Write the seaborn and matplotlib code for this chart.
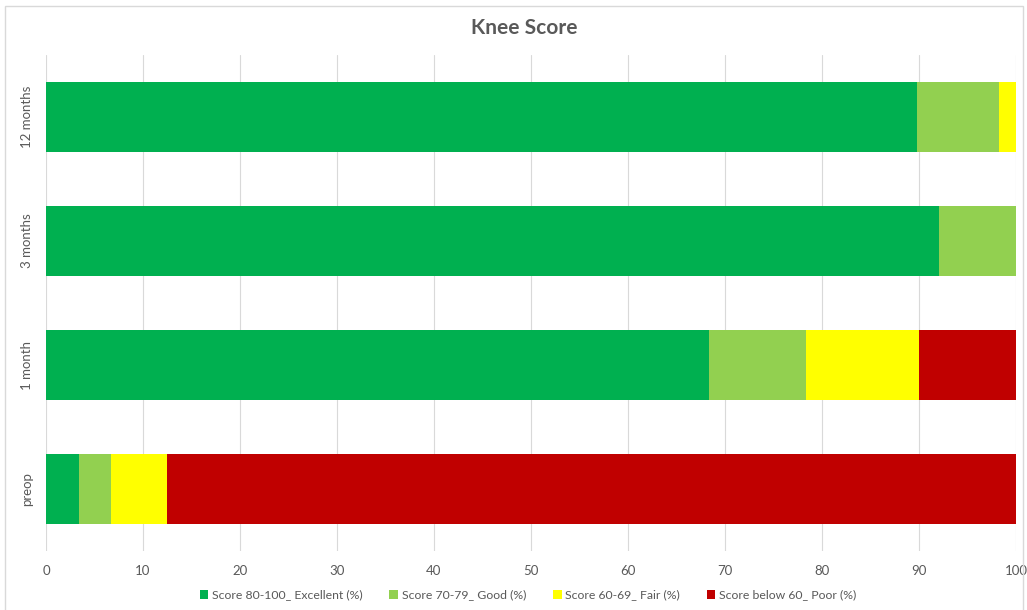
import matplotlib
matplotlib.use("Agg")
import matplotlib.pyplot as plt
import seaborn as sns
import pandas as pd
import numpy as np
from matplotlib.patches import Rectangle, Patch

categories = ["12 months", "3 months", "1 month", "preop"]
series_names = ["Score 80-100_ Excellent (%)", "Score 70-79_ Good (%)",
                "Score 60-69_ Fair (%)", "Score below 60_ Poor (%)"]
excellent = [89.8, 92.1, 68.4, 3.4]
good = [8.4, 7.9, 10.0, 3.3]
fair = [1.8, 0.0, 11.6, 5.8]
poor = [0.0, 0.0, 10.0, 87.5]
colors = ["#00B050", "#92D050", "#FFFF00", "#C00000"]
xticks = [0, 10, 20, 30, 40, 50, 60, 70, 80, 90, 100]

sns.set_theme(style="white")
plt.rcParams['font.family'] = ['Lato', 'DejaVu Sans']

fig = plt.figure(figsize=(10.27, 6.10), dpi=100)
ax = fig.add_axes([46/1027, 1 - 551/610, (1016 - 46)/1027, (551 - 55)/610])

vals = np.array([excellent, good, fair, poor])
cum = np.cumsum(vals, axis=0)
# draw from the largest cumulative (rightmost segment) to smallest
for i in range(3, -1, -1):
    df = pd.DataFrame({"cat": categories, "val": cum[i]})
    sns.barplot(data=df, x="val", y="cat", order=categories, color=colors[i],
                orient="h", width=0.57, ax=ax, saturation=1, zorder=2,
                linewidth=0)

ax.set_xlim(0, 100)
ax.set_xticks(xticks)
ax.set_xticklabels([str(t) for t in xticks], color="#595959", fontsize=9.5)
ax.tick_params(axis="x", length=0, pad=10)
ax.tick_params(axis="y", length=0, pad=9)
for lab in ax.get_yticklabels():
    lab.set_rotation(90)
    lab.set_va("center")
    lab.set_color("#595959")
    lab.set_fontsize(9.5)
ax.set_xlabel("")
ax.set_ylabel("")
for s in ax.spines.values():
    s.set_visible(False)
ax.xaxis.grid(True, color="#D9D9D9", linewidth=0.8, zorder=0)
ax.set_axisbelow(True)

fig.text(524/1027, 1 - 28/610, "Knee Score", ha="center", va="center",
         fontsize=15, fontweight="bold", color="#595959")

handles = [Patch(facecolor=c, edgecolor="none") for c in colors]
fig.legend(handles, series_names, loc="center", bbox_to_anchor=(528/1027, 1 - 595/610),
           ncol=4, frameon=False, fontsize=8.8, handlelength=0.7, handleheight=0.7,
           handletextpad=0.3, columnspacing=2.2, labelcolor="#595959")

fig.patches.append(Rectangle((5/1027, -0.01), (1023 - 5)/1027, (1 - 6/610) + 0.01,
                             transform=fig.transFigure, fill=False,
                             edgecolor="#D9D9D9", linewidth=1))

fig.savefig("out.png", dpi=100)
